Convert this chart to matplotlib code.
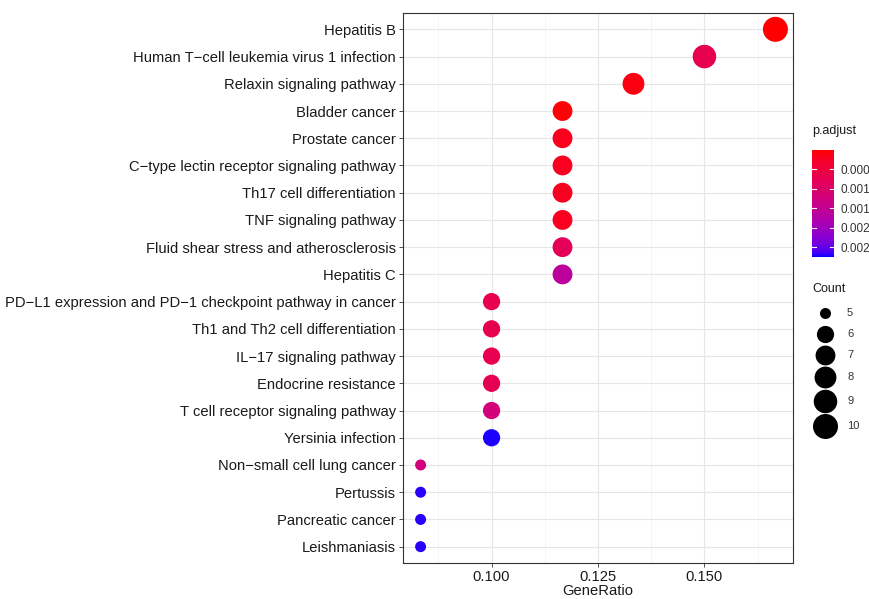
import numpy as np
import matplotlib.pyplot as plt
from matplotlib.colors import ListedColormap, Normalize

plt.rcParams['font.family'] = ['Liberation Sans', 'DejaVu Sans']

# KEGG enrichment results (top to bottom as drawn)
pathways = [
    "Hepatitis B",
    "Human T\u2212cell leukemia virus 1 infection",
    "Relaxin signaling pathway",
    "Bladder cancer",
    "Prostate cancer",
    "C\u2212type lectin receptor signaling pathway",
    "Th17 cell differentiation",
    "TNF signaling pathway",
    "Fluid shear stress and atherosclerosis",
    "Hepatitis C",
    "PD\u2212L1 expression and PD\u22121 checkpoint pathway in cancer",
    "Th1 and Th2 cell differentiation",
    "IL\u221217 signaling pathway",
    "Endocrine resistance",
    "T cell receptor signaling pathway",
    "Yersinia infection",
    "Non\u2212small cell lung cancer",
    "Pertussis",
    "Pancreatic cancer",
    "Leishmaniasis",
]
counts = [10, 9, 8, 7, 7, 7, 7, 7, 7, 7, 6, 6, 6, 6, 6, 6, 5, 5, 5, 5]
gene_ratio = [c / 60 for c in counts]
p_adjust = [0.00002, 0.0007, 0.0001, 0.00005, 0.00018, 0.0002, 0.0002, 0.0002,
            0.0008, 0.0016, 0.0007, 0.0007, 0.0007, 0.00075, 0.0012, 0.00272,
            0.0012, 0.0027, 0.0027, 0.0027]
cbar_ticks = [0.0005, 0.0010, 0.0015, 0.0020, 0.0025]
legend_counts = [5, 6, 7, 8, 9, 10]

W, H = 869, 599

# red -> blue gradient interpolated in Lab space (like ggplot)
M = np.array([[0.4124, 0.3576, 0.1805], [0.2126, 0.7152, 0.0722], [0.0193, 0.1192, 0.9505]])
WHITE = np.array([0.95047, 1.0, 1.08883])


def rgb2lab(c):
    c = np.asarray(c, float)
    lin = np.where(c <= 0.04045, c / 12.92, ((c + 0.055) / 1.055) ** 2.4)
    xyz = M @ lin / WHITE
    f = np.where(xyz > 216 / 24389, np.cbrt(xyz), (24389 / 27 * xyz + 16) / 116)
    return np.array([116 * f[1] - 16, 500 * (f[0] - f[1]), 200 * (f[1] - f[2])])


def lab2rgb(lab):
    L, a, b = lab
    fy = (L + 16) / 116
    f = np.array([fy + a / 500, fy, fy - b / 200])
    xyz = np.where(f ** 3 > 216 / 24389, f ** 3, (116 * f - 16) / (24389 / 27)) * WHITE
    lin = np.clip(np.linalg.solve(M, xyz), 0, 1)
    return np.where(lin <= 0.0031308, 12.92 * lin, 1.055 * lin ** (1 / 2.4) - 0.055)


lab_lo, lab_hi = rgb2lab([1, 0, 0]), rgb2lab([0, 0, 1])
cmap = ListedColormap([lab2rgb(lab_lo + t * (lab_hi - lab_lo)) for t in np.linspace(0, 1, 256)])
norm = Normalize(vmin=0.00001, vmax=0.00275)


def diam_px(c):
    # ggplot area palette, range mapped to pixels
    return 11 + 14 * np.sqrt((c - 5) / 5)


px2pt = 72 / 100

fig = plt.figure(figsize=(W / 100, H / 100), dpi=100)
ax = fig.add_axes([403 / W, (H - 563) / H, 390 / W, 550 / H])

y = np.arange(len(pathways))[::-1]
sizes = [(diam_px(c) * px2pt) ** 2 for c in counts]
ax.scatter(gene_ratio, y, s=sizes, c=p_adjust, cmap=cmap, norm=norm, zorder=3, linewidths=0)

ax.set_xlim(0.0792, 0.1708)
ax.set_ylim(-0.6, len(pathways) - 0.4)
ax.set_xticks([0.100, 0.125, 0.150])
ax.set_xticklabels(["0.100", "0.125", "0.150"])
ax.set_xticks([0.0875, 0.1125, 0.1375, 0.1625], minor=True)
ax.set_yticks(y)
ax.set_yticklabels(pathways)
ax.grid(True, which='major', color='#e6e6e6', linewidth=0.8, zorder=0)
ax.grid(True, which='minor', axis='x', color='#f2f2f2', linewidth=0.5, zorder=0)
ax.set_axisbelow(True)
ax.tick_params(axis='both', which='major', labelsize=10.6, colors='#333333', length=3, width=0.6,
               labelcolor='#1a1a1a', pad=2)
ax.tick_params(axis='x', which='minor', length=0)
for s in ax.spines.values():
    s.set_color('#333333')
    s.set_linewidth(0.8)
ax.set_xlabel("GeneRatio", fontsize=10.6, color='#1a1a1a', labelpad=0)

# p.adjust colour bar
fig.text(812 / W, 1 - 131 / H, "p.adjust", fontsize=9, color='#1a1a1a', va='center')
cax = fig.add_axes([812 / W, (H - 257) / H, 22 / W, 107 / H])
grad = np.linspace(norm.vmin, norm.vmax, 200).reshape(-1, 1)
cax.imshow(grad, aspect='auto', cmap=cmap, norm=norm, origin='upper',
           extent=[0, 1, norm.vmax, norm.vmin])
cax.set_xlim(0, 1)
cax.set_ylim(norm.vmax, norm.vmin)
for t in cbar_ticks:
    cax.plot([0, 0.2], [t, t], color='white', linewidth=0.8)
    cax.plot([0.8, 1], [t, t], color='white', linewidth=0.8)
cax.set_xticks([])
cax.yaxis.tick_right()
cax.set_yticks(cbar_ticks)
cax.set_yticklabels([f"{t:.4f}" for t in cbar_ticks])
cax.tick_params(axis='y', length=0, labelsize=8.5, labelcolor='#333333', pad=5)
for s in cax.spines.values():
    s.set_visible(False)

# Count size legend
fig.text(812 / W, 1 - 289 / H, "Count", fontsize=9, color='#1a1a1a', va='center')
lax = fig.add_axes([800 / W, (H - 445) / H, 69 / W, 145 / H])
lax.set_xlim(800, 869)
lax.set_ylim(445, 300)
lax.axis('off')
ys = 313
for i, c in enumerate(legend_counts):
    if i > 0:
        ys += max(diam_px(c), 20) / 2 + max(diam_px(legend_counts[i - 1]), 20) / 2 + 1
    lax.scatter([825], [ys], s=(diam_px(c) * px2pt) ** 2, color='black', linewidths=0, clip_on=False)
    lax.text(847, ys, str(c), fontsize=8, color='#333333', va='center')

fig.savefig("out.png", dpi=100, facecolor='white')
